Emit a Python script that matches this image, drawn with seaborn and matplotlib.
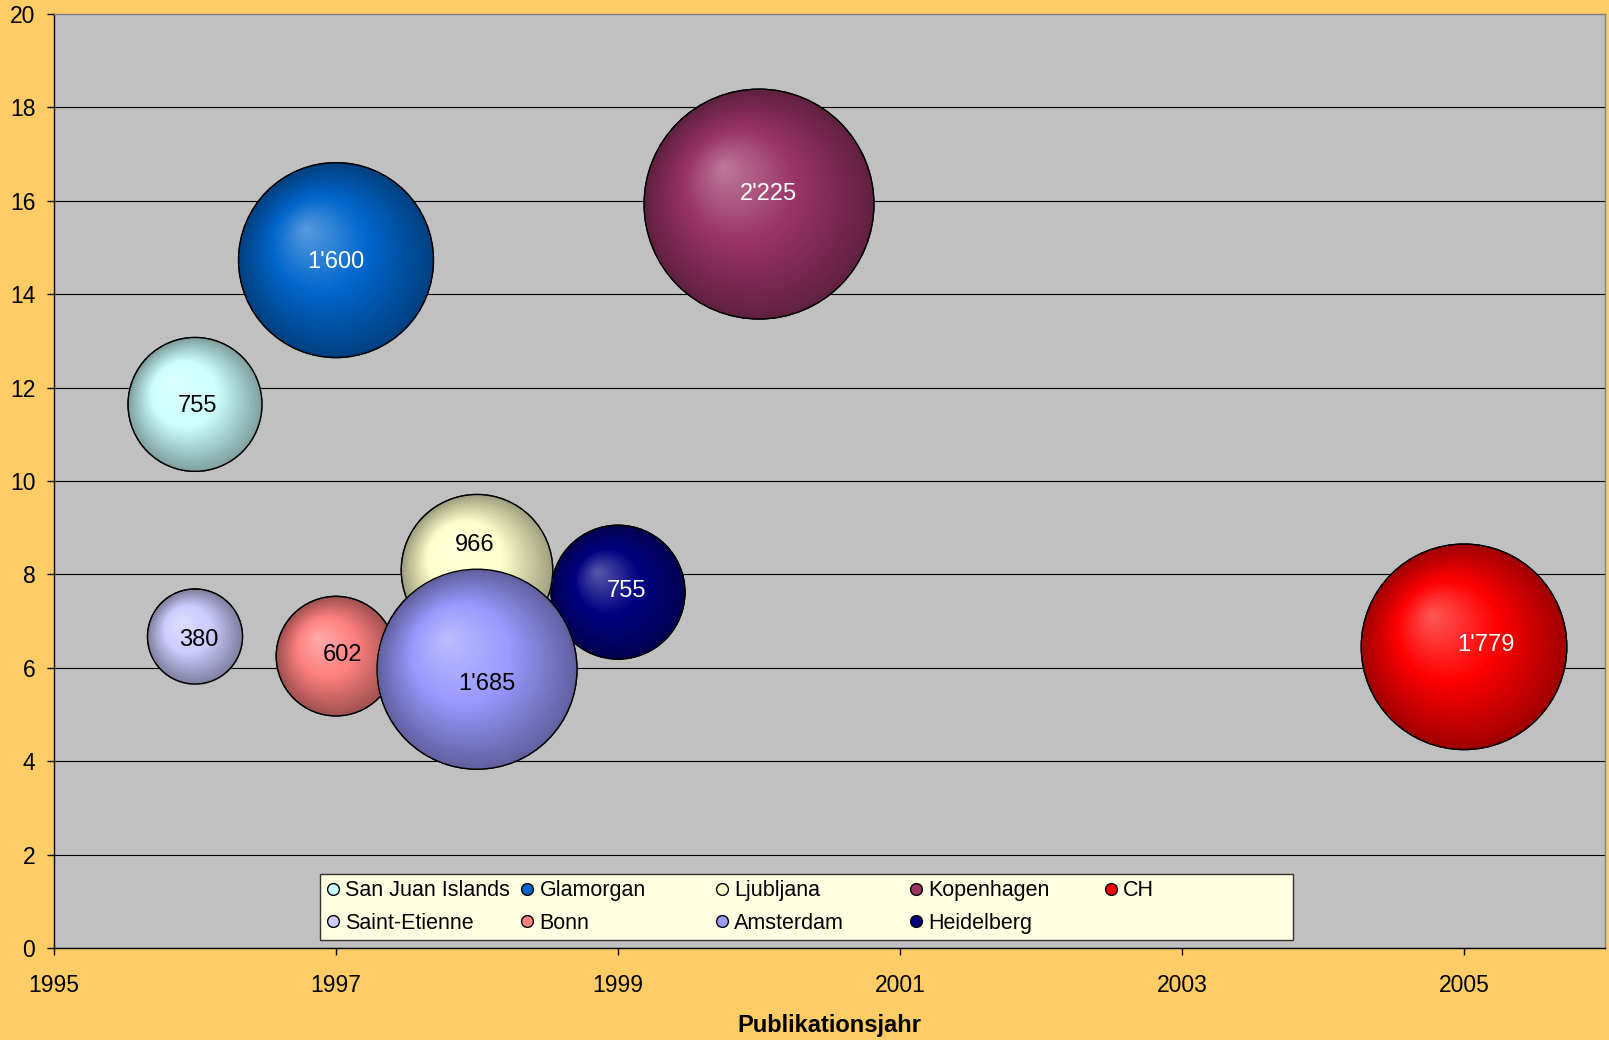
import numpy as np
import pandas as pd
import matplotlib
matplotlib.use('Agg')
import matplotlib.pyplot as plt
from matplotlib.colors import to_rgb
from matplotlib.lines import Line2D
from matplotlib.transforms import offset_copy
import seaborn as sns

# data
cities = ['San Juan Islands', 'Glamorgan', 'Ljubljana', 'Kopenhagen', 'CH',
          'Saint-Etienne', 'Bonn', 'Amsterdam', 'Heidelberg']
years = [1996, 1997, 1998, 2000, 2005, 1996, 1997, 1998, 1999]
y_vals = [11.64, 14.73, 8.09, 15.93, 6.45, 6.67, 6.25, 5.97, 7.62]
n_vals = [755, 1600, 966, 2225, 1779, 380, 602, 1685, 755]
x_ticks = [1995, 1997, 1999, 2001, 2003, 2005]
y_ticks = [0, 2, 4, 6, 8, 10, 12, 14, 16, 18, 20]

# styling
colors = {'San Juan Islands': '#CCFFFF', 'Glamorgan': '#0066CC', 'Ljubljana': '#FFFFCC',
          'Kopenhagen': '#993366', 'CH': '#FF0000', 'Saint-Etienne': '#CCCCFF',
          'Bonn': '#FF8080', 'Amsterdam': '#9999FF', 'Heidelberg': '#000080'}
white_text = ['Glamorgan', 'Kopenhagen', 'CH', 'Heidelberg']
label_off = {'San Juan Islands': (2, -1.5), 'Glamorgan': (0, -1.5), 'Ljubljana': (-2, 18.5),
             'Kopenhagen': (7, 7.5), 'CH': (16, 1.5), 'Saint-Etienne': (3, -2.5),
             'Bonn': (5, 0.5), 'Amsterdam': (7, -10.5), 'Heidelberg': (6, 0.5)}
draw_order = ['Kopenhagen', 'Glamorgan', 'CH', 'San Juan Islands', 'Heidelberg',
              'Saint-Etienne', 'Bonn', 'Ljubljana', 'Amsterdam']
K = 12.3  # points^2 per unit of bubble value

plt.rcParams['font.family'] = ['Liberation Sans', 'DejaVu Sans']

df = pd.DataFrame({'city': cities, 'year': years, 'y': y_vals, 'n': n_vals})

fig = plt.figure(figsize=(16.09, 10.40), dpi=100, facecolor='#FFCC66')
ax = fig.add_axes([54/1609, 92/1040, (1605-54)/1609, (948-14)/1040])
ax.set_facecolor('#C0C0C0')

sns.scatterplot(data=df, x='year', y='y', hue='city', hue_order=cities,
                palette=colors, size='n', sizes=(K*min(n_vals), K*max(n_vals)),
                size_norm=(min(n_vals), max(n_vals)), edgecolor='black',
                linewidth=1, legend=False, zorder=2, ax=ax)

# sphere-like shading: stacked circles shrinking towards an upper-left highlight
def shade(t, base):
    dark = base * 0.63
    light = base + (1 - base) * 0.35
    if t < 0.5:
        u = t / 0.5
        return dark + (base - dark) * u
    u = (t - 0.5) / 0.5
    return base + (light - base) * u

n_layers = 50
for j, city in enumerate(draw_order):
    row = df[df['city'] == city].iloc[0]
    base = np.array(to_rgb(colors[city]))
    d = np.sqrt(K * row['n'])
    r = d / 2
    hx, hy = -0.32 * r, 0.32 * r
    z0 = 3 + j
    for i, t in enumerate(np.linspace(0, 0.97, n_layers)):
        tr = offset_copy(ax.transData, fig=fig, x=hx*t, y=hy*t, units='points')
        ax.scatter([row['year']], [row['y']], s=(d*(1-t))**2, color=shade(t, base),
                   linewidths=0, transform=tr, zorder=z0 + i/(n_layers+2))
    ax.scatter([row['year']], [row['y']], s=d**2, facecolors='none',
               edgecolors='black', linewidths=1, zorder=z0 + 0.99)
    txt = f"{int(row['n']):,}".replace(',', "'")
    ax.annotate(txt, (row['year'], row['y']), xytext=label_off[city],
                textcoords='offset points', ha='center', va='center',
                fontsize=17, color='white' if city in white_text else 'black',
                zorder=z0 + 0.995)

ax.set_xlim(1995, 2006)
ax.set_ylim(0, 20)
ax.set_xticks(x_ticks)
ax.set_yticks(y_ticks)
ax.set_axisbelow(True)
ax.yaxis.grid(True, color='black', lw=0.8)
ax.xaxis.grid(False)
ax.get_ygridlines()[-1].set_visible(False)
ax.tick_params(axis='both', direction='out', length=5, width=1, labelsize=16.5)
ax.tick_params(axis='x', pad=13.5)
ax.tick_params(axis='y', pad=8.5)
for s in ['left', 'bottom']:
    ax.spines[s].set_color('black')
    ax.spines[s].set_linewidth(1)
for s in ['top', 'right']:
    ax.spines[s].set_color('#808080')
    ax.spines[s].set_linewidth(1)
ax.set_xlabel('Publikationsjahr', fontsize=17, fontweight='bold', labelpad=12.5)
ax.set_ylabel('')

# legend laid out row by row like the original
handles = {c: Line2D([], [], marker='o', linestyle='', markerfacecolor=colors[c],
                     markeredgecolor='black', markeredgewidth=1, markersize=8.5)
           for c in cities}
leg_order = ['San Juan Islands', 'Saint-Etienne', 'Glamorgan', 'Bonn', 'Ljubljana',
             'Amsterdam', 'Kopenhagen', 'Heidelberg', 'CH']
leg = ax.legend([handles[c] for c in leg_order], leg_order, ncol=5,
                loc='upper left', bbox_to_anchor=(320/1609, 1 - 874/1040),
                bbox_transform=fig.transFigure, borderaxespad=0, fontsize=15.5,
                handlelength=0.6, handletextpad=0.27, columnspacing=0,
                labelspacing=0.52, borderpad=0.3, fancybox=False,
                framealpha=1, facecolor='#FFFFE1', edgecolor='#333333')
leg.get_frame().set_linewidth(1)
leg.set_zorder(30)
for col, w in zip(leg._legend_handle_box.get_children(), [194.5]*4 + [182]):
    col.align = 'left'
    col.width = w

fig.savefig('out.png', dpi=100, facecolor=fig.get_facecolor())
